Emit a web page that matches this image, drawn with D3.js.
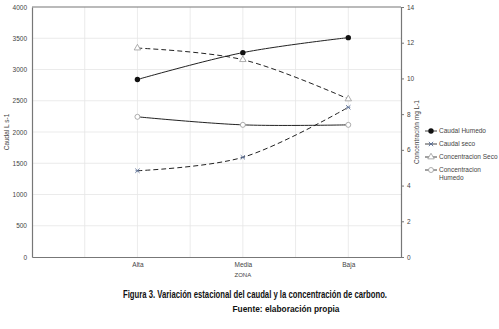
<!DOCTYPE html>
<html>
<head>
<meta charset="utf-8">
<script src="https://cdn.jsdelivr.net/npm/d3@7"></script>
<style>
  body { margin: 0; background: #fff; }
  svg text { font-family: "Liberation Sans", Arial, sans-serif; fill: #444; }
</style>
</head>
<body>
<div id="chart"></div>
<script>
var svgWidth = 499;
var svgHeight = 329;

var margin = { top: 7, right: 98, bottom: 72, left: 32 };
var width = svgWidth - margin.left - margin.right;
var height = svgHeight - margin.top - margin.bottom;

// data
var zonas = ["Alta", "Media", "Baja"];
var caudalHumedo = [2840, 3270, 3510];
var caudalSeco = [1380, 1595, 2395];
var concSeco = [11.7, 11.05, 8.85];
var concHumedo = [7.85, 7.4, 7.4];
var leftTicks = [0, 500, 1000, 1500, 2000, 2500, 3000, 3500, 4000];
var rightTicks = [0, 2, 4, 6, 8, 10, 12, 14];

var series = [
  { name: "Caudal Humedo", values: caudalHumedo, axis: "left", dash: null, marker: "dot" },
  { name: "Caudal seco", values: caudalSeco, axis: "left", dash: "5,3", marker: "star" },
  { name: "Concentracion Seco", values: concSeco, axis: "right", dash: "5,3", marker: "tri" },
  { name: "Concentracion Humedo", values: concHumedo, axis: "right", dash: null, marker: "ring" }
];

var svg = d3.select("#chart")
  .append("svg")
  .attr("width", svgWidth)
  .attr("height", svgHeight);

var chartGroup = svg.append("g")
  .attr("transform", `translate(${margin.left}, ${margin.top})`);

var xScale = d3.scaleLinear().domain([0, 3.5]).range([0, width]);
var yLeft = d3.scaleLinear().domain([0, 4000]).range([height, 0]);
var yRight = d3.scaleLinear().domain([0, 14]).range([height, 0]);

// grid
var xGrid = d3.range(0.5, 3.5, 0.5);
chartGroup.selectAll(".vgrid").data(xGrid).enter().append("line")
  .attr("x1", d => xScale(d)).attr("x2", d => xScale(d))
  .attr("y1", 0).attr("y2", height)
  .attr("stroke", "#e6e6e6").attr("stroke-width", 0.8);
chartGroup.selectAll(".hgrid").data(leftTicks.slice(1, -1)).enter().append("line")
  .attr("x1", 0).attr("x2", width)
  .attr("y1", d => yLeft(d)).attr("y2", d => yLeft(d))
  .attr("stroke", "#e6e6e6").attr("stroke-width", 0.8);

// axes
var leftAxis = d3.axisLeft(yLeft).tickValues(leftTicks).tickFormat(d3.format("d"))
  .tickSize(0).tickPadding(5);
var rightAxis = d3.axisRight(yRight).tickValues(rightTicks).tickSize(3).tickPadding(3);
var bottomAxis = d3.axisBottom(xScale).tickValues([1, 2, 3])
  .tickFormat((d, i) => zonas[i]).tickSize(0).tickPadding(5);

var gl = chartGroup.append("g").call(leftAxis);
var gr = chartGroup.append("g").attr("transform", `translate(${width}, 0)`).call(rightAxis);
var gb = chartGroup.append("g").attr("transform", `translate(0, ${height})`).call(bottomAxis);
[gl, gr, gb].forEach(function(g) {
  g.select(".domain").attr("stroke", "#777").attr("stroke-width", 1.2);
  g.selectAll(".tick line").attr("stroke", "#777");
  g.selectAll("text").attr("font-size", 6.5).attr("fill", "#555")
    .attr("font-family", "Liberation Sans, Arial, sans-serif");
});
// top border
chartGroup.append("line").attr("x1", 0).attr("x2", width).attr("y1", 0).attr("y2", 0)
  .attr("stroke", "#777").attr("stroke-width", 1.2);

// lines
function drawMarker(g, type, x, y) {
  if (type === "dot") {
    g.append("circle").attr("cx", x).attr("cy", y).attr("r", 2.7).attr("fill", "#111");
  } else if (type === "ring") {
    g.append("circle").attr("cx", x).attr("cy", y).attr("r", 2.5)
      .attr("fill", "#fff").attr("stroke", "#999").attr("stroke-width", 0.8);
  } else if (type === "tri") {
    g.append("path").attr("d", d3.symbol().type(d3.symbolTriangle).size(18)())
      .attr("transform", `translate(${x},${y})`)
      .attr("fill", "#fff").attr("stroke", "#999").attr("stroke-width", 0.8);
  } else {
    g.append("path").attr("d", d3.symbol().type(d3.symbolX).size(14)())
      .attr("transform", `translate(${x},${y})`)
      .attr("fill", "none").attr("stroke", "#5a6e94").attr("stroke-width", 0.9);
    g.append("line").attr("x1", x - 2).attr("x2", x + 2).attr("y1", y).attr("y2", y)
      .attr("stroke", "#5a6e94").attr("stroke-width", 0.8);
  }
}

series.forEach(function(s) {
  var yS = s.axis === "left" ? yLeft : yRight;
  var line = d3.line()
    .x((d, i) => xScale(i + 1))
    .y(d => yS(d))
    .curve(d3.curveCatmullRom.alpha(0.5));
  chartGroup.append("path")
    .datum(s.values)
    .attr("d", line)
    .attr("fill", "none")
    .attr("stroke", "#222")
    .attr("stroke-width", 1)
    .attr("stroke-dasharray", s.dash);
  s.values.forEach(function(v, i) {
    drawMarker(chartGroup, s.marker, xScale(i + 1), yS(v));
  });
});

// axis titles
svg.append("text")
  .attr("transform", `translate(9, ${margin.top + height / 2}) rotate(-90)`)
  .attr("text-anchor", "middle")
  .attr("font-size", 6.5)
  .text("Caudal L s-1");

svg.append("text")
  .attr("transform", `translate(419, ${margin.top + height / 2}) rotate(-90)`)
  .attr("text-anchor", "middle")
  .attr("font-size", 6.5)
  .text("Concentración mg L-1");

svg.append("text")
  .attr("x", margin.left + xScale(2))
  .attr("y", 277)
  .attr("text-anchor", "middle")
  .attr("font-size", 6)
  .text("ZONA");

// legend
var legend = svg.append("g").attr("transform", "translate(425, 131)");
series.forEach(function(s, i) {
  var ly = i * 13;
  legend.append("line").attr("x1", 0).attr("x2", 12).attr("y1", ly).attr("y2", ly)
    .attr("stroke", "#444").attr("stroke-width", 1);
  drawMarker(legend, s.marker, 6, ly);
  var words = s.name === "Concentracion Humedo" ? ["Concentracion", "Humedo"] : [s.name];
  words.forEach(function(w, j) {
    legend.append("text").attr("x", 14).attr("y", ly + 2.3 + j * 8)
      .attr("font-size", 6.5).attr("fill", "#444").text(w);
  });
});

// caption
svg.append("text")
  .attr("x", 255).attr("y", 298)
  .attr("text-anchor", "middle")
  .attr("font-family", "Liberation Sans Narrow, DejaVu Sans Condensed, sans-serif")
  .attr("font-weight", "bold")
  .attr("font-size", 11)
  .attr("textLength", 264)
  .attr("lengthAdjust", "spacingAndGlyphs")
  .style("fill", "#111")
  .text("Figura 3. Variación estacional del caudal y la concentración de carbono.");

svg.append("text")
  .attr("x", 286).attr("y", 312)
  .attr("text-anchor", "middle")
  .attr("font-family", "Liberation Sans Narrow, DejaVu Sans Condensed, sans-serif")
  .attr("font-weight", "bold")
  .attr("font-size", 8.5)
  .attr("textLength", 107)
  .attr("lengthAdjust", "spacingAndGlyphs")
  .style("fill", "#111")
  .text("Fuente: elaboración propia");
</script>
</body>
</html>
